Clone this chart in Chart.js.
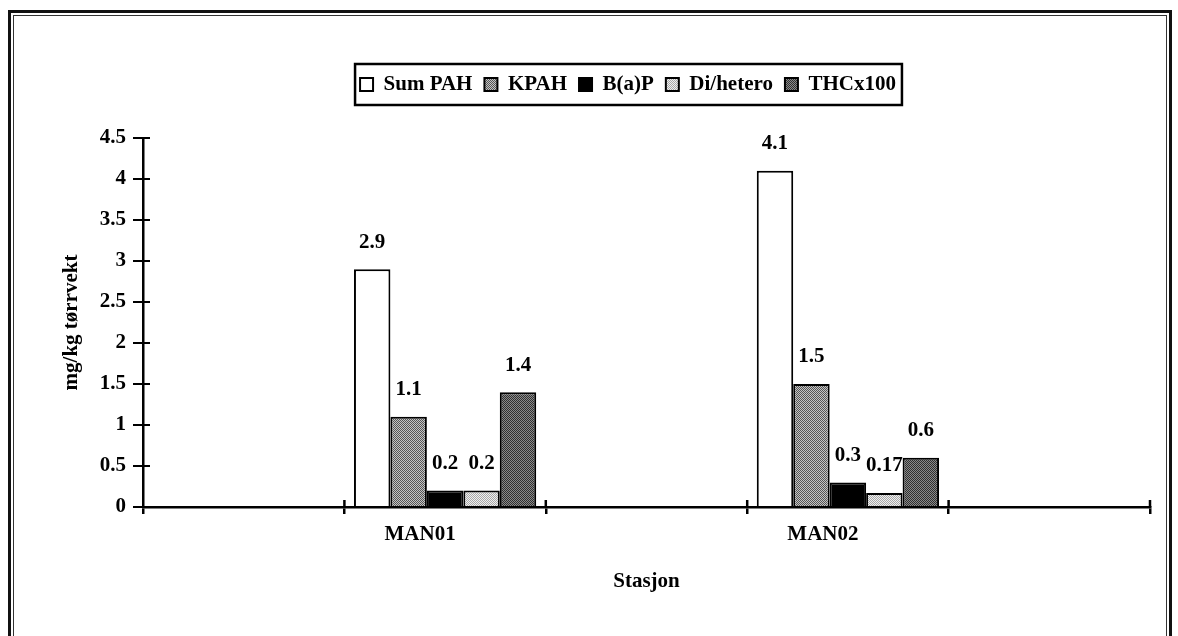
<!DOCTYPE html>
<html>
<head>
<meta charset="utf-8">
<script src="https://cdn.jsdelivr.net/npm/chart.js@4.4.1/dist/chart.umd.min.js"></script>
<style>
  html, body { margin: 0; background: #fff; overflow: hidden; }
  #wrap { position: relative; width: 1178px; height: 636px; }
  #chart { position: absolute; left: 0; top: 0; }
  .frame { position: absolute; pointer-events: none; }
  .outer { left: 8px; top: 10px; width: 1158px; height: 700px; border: 3px solid #111; }
  .inner { left: 13px; top: 15px; width: 1152px; height: 700px; border: 1px solid #333; }
</style>
</head>
<body>
<div id="wrap">
  <canvas id="chart" width="1178" height="636"></canvas>
  <div class="frame outer"></div>
  <div class="frame inner"></div>
</div>
<script>
// stations sit in slots 2 and 4, the other category slots are blank
const categories = ['', 'MAN01', '', 'MAN02', '']
const sumPAH   = [null, 2.9, null, 4.1, null]
const kpah     = [null, 1.1, null, 1.5, null]
const bap      = [null, 0.2, null, 0.3, null]
const diHetero = [null, 0.2, null, 0.17, null]
const thcx100  = [null, 1.4, null, 0.6, null]
const yMax = 4.5
const yStep = 0.5

const FONT = '"Liberation Serif", "Times New Roman", serif'
Chart.defaults.font.family = FONT
Chart.defaults.font.weight = 'bold'
Chart.defaults.font.size = 21
Chart.defaults.color = '#000'

const canvas = document.getElementById('chart')
const ctx = canvas.getContext('2d')

// 2x2 dither, looks like the scanned grey fills
function dither(dark, light) {
  const c = document.createElement('canvas')
  c.width = c.height = 2
  const g = c.getContext('2d')
  g.fillStyle = light
  g.fillRect(0, 0, 2, 2)
  g.fillStyle = dark
  g.fillRect(0, 0, 1, 1)
  g.fillRect(1, 1, 1, 1)
  return ctx.createPattern(c, 'repeat')
}

// crossing tick marks: Chart.js only draws the outside half
const axisTicks = {
  id: 'axisTicks',
  afterDraw(chart) {
    const { ctx, scales: { x, y } } = chart
    ctx.save()
    ctx.strokeStyle = '#000'
    ctx.lineWidth = 2
    y.ticks.forEach(t => {
      const py = y.getPixelForValue(t.value)
      ctx.beginPath()
      ctx.moveTo(x.left, py)
      ctx.lineTo(x.left + 7, py)
      ctx.stroke()
    })
    ctx.lineWidth = 2.5
    for (let i = 1; i <= categories.length; i++) {
      const px = x.getPixelForValue(i - 0.5)
      ctx.beginPath()
      ctx.moveTo(px, y.bottom)
      ctx.lineTo(px, y.bottom - 7)
      ctx.stroke()
    }
    ctx.restore()
  }
}

const barValues = {
  id: 'barValues',
  afterDatasetsDraw(chart) {
    const { ctx } = chart
    ctx.save()
    ctx.font = 'bold 21px ' + FONT
    ctx.fillStyle = '#000'
    ctx.textAlign = 'center'
    ctx.textBaseline = 'middle'
    chart.data.datasets.forEach((ds, i) => {
      chart.getDatasetMeta(i).data.forEach((bar, j) => {
        const v = ds.data[j]
        if (v == null) return
        ctx.fillText(String(v), bar.x, bar.y - 27)
      })
    })
    ctx.restore()
  }
}

// legend: extra space below it, nudged right, framed
const legendBox = {
  id: 'legendBox',
  beforeLayout(chart) {
    const lg = chart.legend
    if (lg._padded) return
    const fit = lg.fit
    lg.fit = function () { fit.call(this); this.height += 33 }
    lg._padded = true
  },
  afterLayout(chart) {
    chart.legend.left += 53
    chart.legend.right += 53
  },
  afterDraw(chart) {
    const boxes = chart.legend.legendHitBoxes
    if (!boxes.length) return
    const first = boxes[0]
    const last = boxes[boxes.length - 1]
    const { ctx } = chart
    ctx.save()
    ctx.strokeStyle = '#000'
    ctx.lineWidth = 2.5
    const l = first.left - 5
    const r = last.left + last.width + 6
    const t = first.top - 10
    const b = first.top + first.height + 10
    ctx.strokeRect(l, t, r - l, b - t)
    ctx.restore()
  }
}

const series = [
  { label: 'Sum PAH', data: sumPAH, backgroundColor: '#fff' },
  { label: 'KPAH', data: kpah, backgroundColor: dither('#555', '#c4c4c4') },
  { label: 'B(a)P', data: bap, backgroundColor: '#000' },
  { label: 'Di/hetero', data: diHetero, backgroundColor: dither('#a8a8a8', '#f0f0f0') },
  { label: 'THCx100', data: thcx100, backgroundColor: dither('#303030', '#8a8a8a') }
]

new Chart(canvas, {
  type: 'bar',
  data: {
    labels: categories,
    datasets: series.map(s => ({
      ...s,
      borderColor: '#000',
      borderWidth: 2,
      categoryPercentage: 0.905,
      barPercentage: 1
    }))
  },
  options: {
    responsive: false,
    animation: false,
    layout: { padding: { top: 62, right: 28, bottom: 0, left: 0 } },
    plugins: {
      legend: {
        position: 'top',
        labels: { boxWidth: 13, boxHeight: 13, padding: 12, font: { size: 21 } }
      },
      tooltip: { enabled: false }
    },
    scales: {
      x: {
        offset: true,
        grid: { offset: true, drawOnChartArea: false, tickLength: 7, color: '#000', lineWidth: 2.5 },
        border: { color: '#000', width: 2.5 },
        ticks: { padding: 8, maxRotation: 0, autoSkip: false, labelOffset: -25 },
        title: { display: true, text: 'Stasjon', padding: { top: 0, bottom: 42 } },
        afterFit: s => { s.height = 129 }
      },
      y: {
        min: 0,
        max: yMax,
        grid: { drawOnChartArea: false, tickLength: 10, color: '#000', lineWidth: 2 },
        border: { color: '#000', width: 2.5 },
        ticks: { stepSize: yStep, padding: 7, callback: v => String(+v.toFixed(2)) },
        title: { display: true, text: 'mg/kg tørrvekt', padding: { top: 59, bottom: 0 } },
        afterFit: s => { s.width = 143 }
      }
    }
  },
  plugins: [axisTicks, barValues, legendBox]
})
</script>
</body>
</html>
